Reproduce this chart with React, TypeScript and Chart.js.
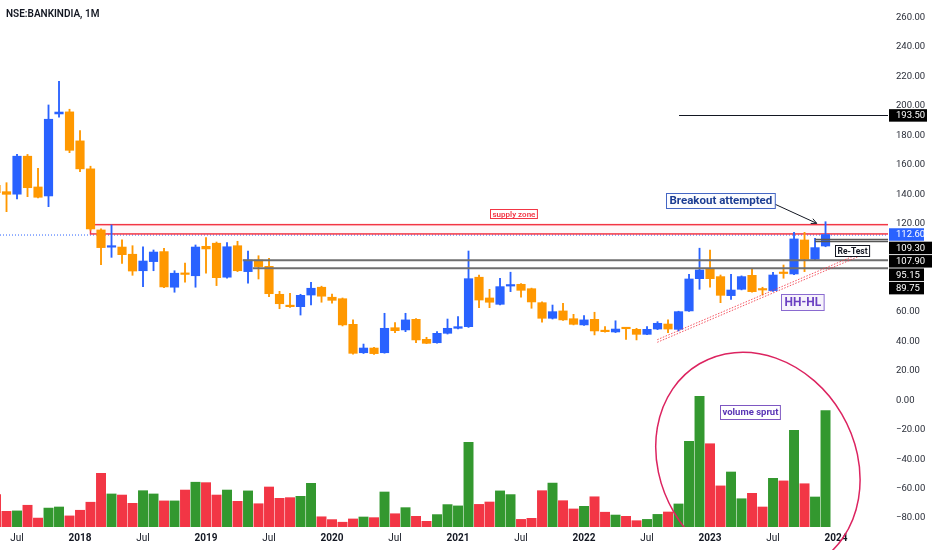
import React, { useEffect, useRef } from 'react';
import { Chart, registerables } from 'chart.js';

Chart.register(...registerables);

const FONT = 'Roboto, "Liberation Sans", Arial, sans-serif';

// ---------- data ----------
const months = [
  '2017-05', '2017-06', '2017-07', '2017-08', '2017-09', '2017-10', '2017-11', '2017-12',
  '2018-01', '2018-02', '2018-03', '2018-04', '2018-05', '2018-06', '2018-07', '2018-08', '2018-09', '2018-10', '2018-11', '2018-12',
  '2019-01', '2019-02', '2019-03', '2019-04', '2019-05', '2019-06', '2019-07', '2019-08', '2019-09', '2019-10', '2019-11', '2019-12',
  '2020-01', '2020-02', '2020-03', '2020-04', '2020-05', '2020-06', '2020-07', '2020-08', '2020-09', '2020-10', '2020-11', '2020-12',
  '2021-01', '2021-02', '2021-03', '2021-04', '2021-05', '2021-06', '2021-07', '2021-08', '2021-09', '2021-10', '2021-11', '2021-12',
  '2022-01', '2022-02', '2022-03', '2022-04', '2022-05', '2022-06', '2022-07', '2022-08', '2022-09', '2022-10', '2022-11', '2022-12',
  '2023-01', '2023-02', '2023-03', '2023-04', '2023-05', '2023-06', '2023-07', '2023-08', '2023-09', '2023-10', '2023-11', '2023-12',
];

const opens = [
  146, 141.7, 140, 165.8, 144.9, 138.8, 194.5, 195.9,
  176.2, 157.2, 115.7, 104, 104.1, 99.2, 88, 94.2, 101, 76.8, 86.3, 84.6,
  104.6, 106.7, 83.6, 105, 87.4, 95.3, 91, 72, 64.2, 63.6, 71.5, 76.8,
  70, 69, 51.6, 32.3, 35.5, 32.3, 49.3, 47.8, 55, 41.4, 39.1, 45.5,
  48.9, 50, 83.6, 69.5, 65.2, 77.6, 78.8, 75.8, 66.3, 55.7, 60.7, 55.4,
  51.2, 55, 47, 46.4, 49.2, 48.2, 44.8, 48.4, 51.8, 48.2, 60.7, 82.6,
  89, 84, 71.1, 75.4, 84.9, 75.2, 74.5, 86.6, 85.8, 108.9, 95.8, 104.8,
];
const highs = [
  150, 147.8, 167.1, 167, 157.6, 200.6, 216.7, 197.7,
  183.2, 159, 116.5, 119.1, 109, 105, 104.3, 102.1, 103.3, 88, 93.2, 105.5,
  110.5, 107.5, 107.1, 108, 101.4, 98.2, 96.5, 74, 72.7, 72, 80.2, 77.5,
  72.2, 69.5, 54.6, 38.2, 36, 59.1, 52.7, 59.1, 55.5, 42.8, 46.6, 55.2,
  56.8, 101.4, 85.1, 75.4, 82.9, 87, 79.2, 76.2, 66.8, 64.7, 65.9, 58.4,
  57.5, 59.8, 50, 54, 49.5, 48.9, 50, 53.4, 54.6, 60.5, 85.6, 103.3,
  102.1, 85.1, 85.6, 84.5, 89.7, 76.8, 87, 91.9, 114.1, 114.1, 110, 121.3,
];
const lows = [
  138, 128.1, 136.8, 138.3, 137.5, 131.5, 192.3, 168.2,
  155.3, 115.5, 92.1, 97.1, 93, 84.9, 77.2, 88, 76.5, 73.4, 80.2, 76.8,
  86.3, 77.9, 83, 87.4, 79.5, 82.4, 70.4, 62.2, 63, 57.9, 64.7, 66.6,
  65.9, 50.5, 31.3, 31.8, 31.2, 32, 45.9, 46.6, 39.1, 38.5, 38.8, 45,
  48.5, 49.5, 62.9, 62.9, 64.8, 73.8, 70, 62.5, 53, 55.2, 54.2, 51.2,
  50.8, 44.4, 46.2, 46, 41.4, 41, 44.5, 48, 45.9, 47.1, 60.3, 75.4,
  76.8, 66.3, 68.6, 75, 73.4, 71.5, 74, 82.9, 85.3, 87.4, 95.3, 104.3,
];
const closes = [
  141, 139.9, 165.8, 144.4, 137.9, 190.9, 195.8, 169.8,
  157.2, 116.4, 103.7, 104.6, 98.9, 87.8, 94.6, 100.7, 77, 86.3, 85.5, 104.1,
  102.8, 83.3, 104.3, 88, 95.3, 90.8, 72.4, 65.6, 63.6, 71.3, 76.1, 70.7,
  67.9, 51.2, 31.9, 35.5, 31.7, 48.9, 47.3, 54.6, 41, 38.7, 45.5, 48.9,
  50, 82.6, 68.1, 66.6, 77.2, 78.4, 74.7, 66.8, 55.7, 60.2, 54.6, 51.6,
  54.6, 47.1, 46.6, 48.4, 48.6, 44.8, 48.2, 52.3, 48.4, 60.2, 82.4, 88.5,
  82.6, 71.3, 74.9, 84, 73.8, 74.9, 85.1, 86.1, 109.6, 95.8, 103.7, 112.6,
];
// volume, millions of shares
const volumes = [
  149, 72, 74, 100, 41, 87, 92, 51,
  77, 114, 247, 152, 147, 109, 167, 152, 120, 120, 170, 206,
  204, 147, 170, 118, 166, 107, 184, 132, 135, 141, 201, 47,
  34, 22, 37, 46, 43, 161, 61, 89, 49, 26, 57, 103,
  97, 390, 104, 115, 166, 149, 35, 40, 167, 202, 121, 83,
  95, 139, 68, 55, 49, 29, 35, 58, 69, 106, 394, 601,
  383, 189, 253, 130, 155, 92, 224, 212, 445, 199, 138, 535,
];

const xTickMonths = ['2017-07', '2018-01', '2018-07', '2019-01', '2019-07', '2020-01', '2020-07', '2021-01', '2021-07', '2022-01', '2022-07', '2023-01', '2023-07', '2024-01'];
const xTickLabels = ['Jul', '2018', 'Jul', '2019', 'Jul', '2020', 'Jul', '2021', 'Jul', '2022', 'Jul', '2023', 'Jul', '2024'];
const yTickValues = [-80, -60, -40, -20, 0, 20, 40, 60, 120, 140, 160, 180, 200, 220, 240, 260];

// drawings (price levels in INR, positions in month index from Jan 2018)
const supplyZone = [113.0, 119.3];
const supplyZoneFrom = 1.0;
const greyLevels = [95.15, 89.75];
const greyLevelFrom = [15.5, 16.45];
const retestLevels = [109.3, 107.9];
const retestFrom = 70.0;
const topLevel = 193.5;
const topLevelFrom = 57.05;
const lastPrice = 112.6;
const trendFrom = [54.98, 39.4];
const trendTo = [74.12, 97.6];
const arrowFrom = [65.97, 133.9];
const arrowTo = [70.16, 120.2];
const ellipseCenter = [64.56, -42.8];

const axisLabels = [
  { value: 112.6, bg: '#2962FF', right: 924 },
  { value: 109.3, bg: '#000000', right: 932 },
  { value: 107.9, bg: '#000000', right: 932 },
  { value: 95.15, bg: '#000000', right: 924 },
  { value: 89.75, bg: '#000000', right: 924 },
];
const topLabel = { value: 193.5, bg: '#000000', right: 927 };

const textNotes = [
  { text: 'supply zone', m: 41.24, v: 126.6, color: '#F23645', border: '#F23645', fill: '#ffffff', size: 8, weight: '600', padX: 2, h: 9 },
  { text: 'Breakout attempted', m: 60.95, v: 135.4, color: '#1c3d92', border: '#4466c4', fill: '#fbfcff', size: 11.5, weight: 'bold', padX: 3, h: 15 },
  { text: 'Re-Test', m: 73.48, v: 101.8, color: '#131722', border: '#131722', fill: '#ffffff', size: 8.5, weight: 'bold', padX: 2, h: 11 },
  { text: 'HH-HL', m: 68.8, v: 66.8, color: '#6a3fc2', border: '#8a6ad0', fill: 'rgba(126,87,194,0.07)', size: 12, weight: 'bold', padX: 3, h: 16 },
  { text: 'volume sprut', m: 63.8, v: -8.2, color: '#5a35b5', border: '#7e57c2', fill: '#ffffff', size: 9.5, weight: 'bold', padX: 2, h: 14 },
];

const UP = '#2962FF';
const DOWN = '#FF9800';
const VOL_UP = '#33982f';
const VOL_DOWN = '#f23645';

const monthIndex = (s: string) => {
  const [y, m] = s.split('-').map(Number);
  return (y - 2018) * 12 + (m - 1);
};

const drawings = {
  id: 'drawings',
  beforeDatasetsDraw(chart: any) {
    const { ctx, chartArea } = chart;
    const X = (m: number) => chart.scales.x.getPixelForValue(m);
    const Y = (v: number) => chart.scales.y.getPixelForValue(v);
    ctx.save();
    ctx.beginPath();
    ctx.rect(chartArea.left, chartArea.top, chartArea.right - chartArea.left, chartArea.bottom - chartArea.top);
    ctx.clip();
    // last price dotted line
    ctx.strokeStyle = '#2962FF';
    ctx.lineWidth = 1;
    ctx.setLineDash([1, 2]);
    ctx.beginPath();
    ctx.moveTo(chartArea.left, Y(lastPrice) + 0.5);
    ctx.lineTo(chartArea.right, Y(lastPrice) + 0.5);
    ctx.stroke();
    ctx.setLineDash([]);
    // supply zone
    const x0 = X(supplyZoneFrom);
    const yT = Y(supplyZone[1]);
    const yB = Y(supplyZone[0]);
    ctx.fillStyle = 'rgba(242,54,69,0.04)';
    ctx.fillRect(x0, yT, chartArea.right - x0, yB - yT);
    ctx.strokeStyle = '#F23645';
    ctx.lineWidth = 1.5;
    ctx.strokeRect(x0, yT, chartArea.right - x0 + 5, yB - yT);
    ctx.restore();
  },
  afterDatasetsDraw(chart: any) {
    const { ctx, chartArea } = chart;
    const X = (m: number) => chart.scales.x.getPixelForValue(m);
    const Y = (v: number) => chart.scales.y.getPixelForValue(v);
    ctx.save();
    ctx.beginPath();
    ctx.rect(chartArea.left, chartArea.top, chartArea.right - chartArea.left, chartArea.bottom - chartArea.top);
    ctx.clip();
    // grey levels
    ctx.strokeStyle = '#6f6f6f';
    ctx.lineWidth = 2;
    greyLevels.forEach((v, i) => {
      ctx.beginPath();
      ctx.moveTo(X(greyLevelFrom[i]), Y(v));
      ctx.lineTo(chartArea.right, Y(v));
      ctx.stroke();
    });
    // retest levels
    ctx.strokeStyle = '#555555';
    ctx.lineWidth = 1.5;
    retestLevels.forEach((v) => {
      ctx.beginPath();
      ctx.moveTo(X(retestFrom), Y(v));
      ctx.lineTo(chartArea.right, Y(v));
      ctx.stroke();
    });
    // top level
    ctx.strokeStyle = '#131722';
    ctx.lineWidth = 1;
    ctx.beginPath();
    ctx.moveTo(X(topLevelFrom), Math.round(Y(topLevel)) + 0.5);
    ctx.lineTo(chartArea.right, Math.round(Y(topLevel)) + 0.5);
    ctx.stroke();
    // trend line (double dotted)
    ctx.strokeStyle = 'rgba(242,54,69,0.85)';
    ctx.lineWidth = 1;
    ctx.setLineDash([1.5, 1.5]);
    [0, -2.6].forEach((off) => {
      ctx.beginPath();
      ctx.moveTo(X(trendFrom[0]), Y(trendFrom[1]) + off);
      ctx.lineTo(X(trendTo[0]), Y(trendTo[1]) + off);
      ctx.stroke();
    });
    ctx.setLineDash([]);
    // arrow
    const ax0 = X(arrowFrom[0]), ay0 = Y(arrowFrom[1]);
    const ax1 = X(arrowTo[0]), ay1 = Y(arrowTo[1]);
    ctx.strokeStyle = '#131722';
    ctx.lineWidth = 1;
    ctx.beginPath();
    ctx.moveTo(ax0, ay0);
    ctx.lineTo(ax1, ay1);
    const ang = Math.atan2(ay1 - ay0, ax1 - ax0);
    ctx.moveTo(ax1 - 6 * Math.cos(ang - 0.45), ay1 - 6 * Math.sin(ang - 0.45));
    ctx.lineTo(ax1, ay1);
    ctx.lineTo(ax1 - 6 * Math.cos(ang + 0.45), ay1 - 6 * Math.sin(ang + 0.45));
    ctx.stroke();
    // text notes
    textNotes.forEach((n) => {
      ctx.font = `${n.weight} ${n.size}px ${FONT}`;
      const w = ctx.measureText(n.text).width + n.padX * 2;
      const cx = X(n.m);
      const cy = Y(n.v);
      const bx = Math.round(cx - w / 2) + 0.5;
      const by = Math.round(cy - n.h / 2) + 0.5;
      ctx.fillStyle = n.fill;
      ctx.fillRect(bx, by, w, n.h);
      ctx.strokeStyle = n.border;
      ctx.lineWidth = 1;
      ctx.strokeRect(bx, by, w, n.h);
      ctx.fillStyle = n.color;
      ctx.textAlign = 'center';
      ctx.textBaseline = 'middle';
      ctx.fillText(n.text, bx + w / 2, by + n.h / 2 + 0.5);
    });
    ctx.restore();

    // ellipse
    ctx.save();
    ctx.beginPath();
    ctx.rect(chartArea.left, chartArea.top, chartArea.right - chartArea.left, chartArea.bottom - chartArea.top);
    ctx.rect(780, chartArea.bottom, chartArea.right - 780, chart.height - chartArea.bottom);
    ctx.clip();
    const pxPerMonth = X(1) - X(0);
    ctx.strokeStyle = '#dc2460';
    ctx.lineWidth = 1.5;
    ctx.beginPath();
    ctx.ellipse(X(ellipseCenter[0]), Y(ellipseCenter[1]), 9.26 * pxPerMonth, 10.99 * pxPerMonth, (-30.4 * Math.PI) / 180, 0, Math.PI * 2);
    ctx.stroke();
    ctx.restore();
  },
  afterDraw(chart: any) {
    const { ctx, chartArea } = chart;
    const Y = (v: number) => chart.scales.y.getPixelForValue(v);
    ctx.save();
    ctx.font = `9.5px ${FONT}`;
    ctx.textAlign = 'left';
    ctx.textBaseline = 'middle';
    const H = 12.5;
    const STEP = 13.4;
    let prev = -Infinity;
    const drawLabel = (lab: any, cy: number) => {
      const x0 = chartArea.right + 1;
      ctx.fillStyle = lab.bg;
      ctx.fillRect(x0, cy - H / 2, lab.right - x0, H);
      ctx.fillStyle = '#ffffff';
      ctx.fillText(lab.value.toFixed(2), chartArea.right + 8, cy + 0.5);
    };
    axisLabels.forEach((lab) => {
      let cy = Y(lab.value);
      if (cy < prev + STEP) cy = prev + STEP;
      drawLabel(lab, cy);
      prev = cy;
    });
    drawLabel(topLabel, Y(topLabel.value));
    // title
    ctx.fillStyle = '#131722';
    ctx.font = `600 10px ${FONT}`;
    ctx.textBaseline = 'middle';
    ctx.fillText('NSE:BANKINDIA, 1M', 6, 14);
    ctx.restore();
  },
};

export default function App() {
  const ref = useRef<HTMLCanvasElement | null>(null);
  useEffect(() => {
    document.body.style.margin = '0';
    const xs = months.map(monthIndex);
    const up = closes.map((c, i) => c >= opens[i]);
    const chart = new Chart(ref.current as HTMLCanvasElement, {
      type: 'bar',
      data: {
        datasets: [
          {
            label: 'Body',
            data: xs.map((x, i) => ({ x, y: [opens[i], closes[i]] })) as any,
            backgroundColor: up.map((u) => (u ? UP : DOWN)),
            barThickness: 8.5,
            minBarLength: 1.5,
            grouped: false,
            yAxisID: 'y',
            order: 1,
          } as any,
          {
            label: 'Wick',
            data: xs.map((x, i) => ({ x, y: [lows[i], highs[i]] })) as any,
            backgroundColor: up.map((u) => (u ? UP : DOWN)),
            barThickness: 1.2,
            grouped: false,
            yAxisID: 'y',
            order: 2,
          } as any,
          {
            label: 'Volume',
            data: xs.map((x, i) => ({ x, y: volumes[i] })) as any,
            backgroundColor: up.map((u) => (u ? VOL_UP : VOL_DOWN)),
            barThickness: 9.3,
            grouped: false,
            yAxisID: 'yVol',
            order: 3,
          } as any,
        ],
      },
      options: {
        animation: false,
        responsive: true,
        maintainAspectRatio: false,
        events: [],
        layout: { padding: 0 },
        plugins: { legend: { display: false }, tooltip: { enabled: false }, title: { display: false } },
        scales: {
          x: {
            type: 'linear',
            min: -7.62,
            max: 76.95,
            offset: false,
            grid: { display: false, drawTicks: false },
            border: { display: false },
            afterBuildTicks: (scale: any) => {
              scale.ticks = xTickMonths.map((m) => ({ value: monthIndex(m) }));
            },
            afterFit: (scale: any) => {
              scale.height = 23;
              scale.paddingLeft = 0;
              scale.paddingRight = 0;
            },
            ticks: {
              autoSkip: false,
              maxRotation: 0,
              padding: 5,
              callback: (_v: any, i: number) => xTickLabels[i],
              color: '#131722',
              font: (c: any) => ({
                family: FONT,
                size: 10,
                weight: /^\d/.test(xTickLabels[c.index] || '') ? 'bold' : 'normal',
              }),
            },
          },
          y: {
            type: 'linear',
            position: 'right',
            min: -86.07,
            max: 271.9,
            grid: { display: false, drawTicks: false },
            border: { display: false },
            afterBuildTicks: (scale: any) => {
              scale.ticks = yTickValues.map((v) => ({ value: v }));
            },
            afterFit: (scale: any) => {
              scale.width = 44;
              scale.paddingTop = 0;
              scale.paddingBottom = 0;
            },
            ticks: {
              padding: 8,
              color: '#2a2e39',
              font: { family: FONT, size: 9.5 },
              callback: (v: any) => Number(v).toFixed(2).replace('-', '\u2212'),
            },
          },
          yVol: {
            type: 'linear',
            display: false,
            min: 0,
            max: 2424,
          },
        },
      } as any,
      plugins: [drawings],
    });
    return () => chart.destroy();
  }, []);
  return (
    <div style={{ position: 'fixed', left: 0, top: 0, width: 932, height: 550, background: '#ffffff' }}>
      <canvas ref={ref} />
    </div>
  );
}
